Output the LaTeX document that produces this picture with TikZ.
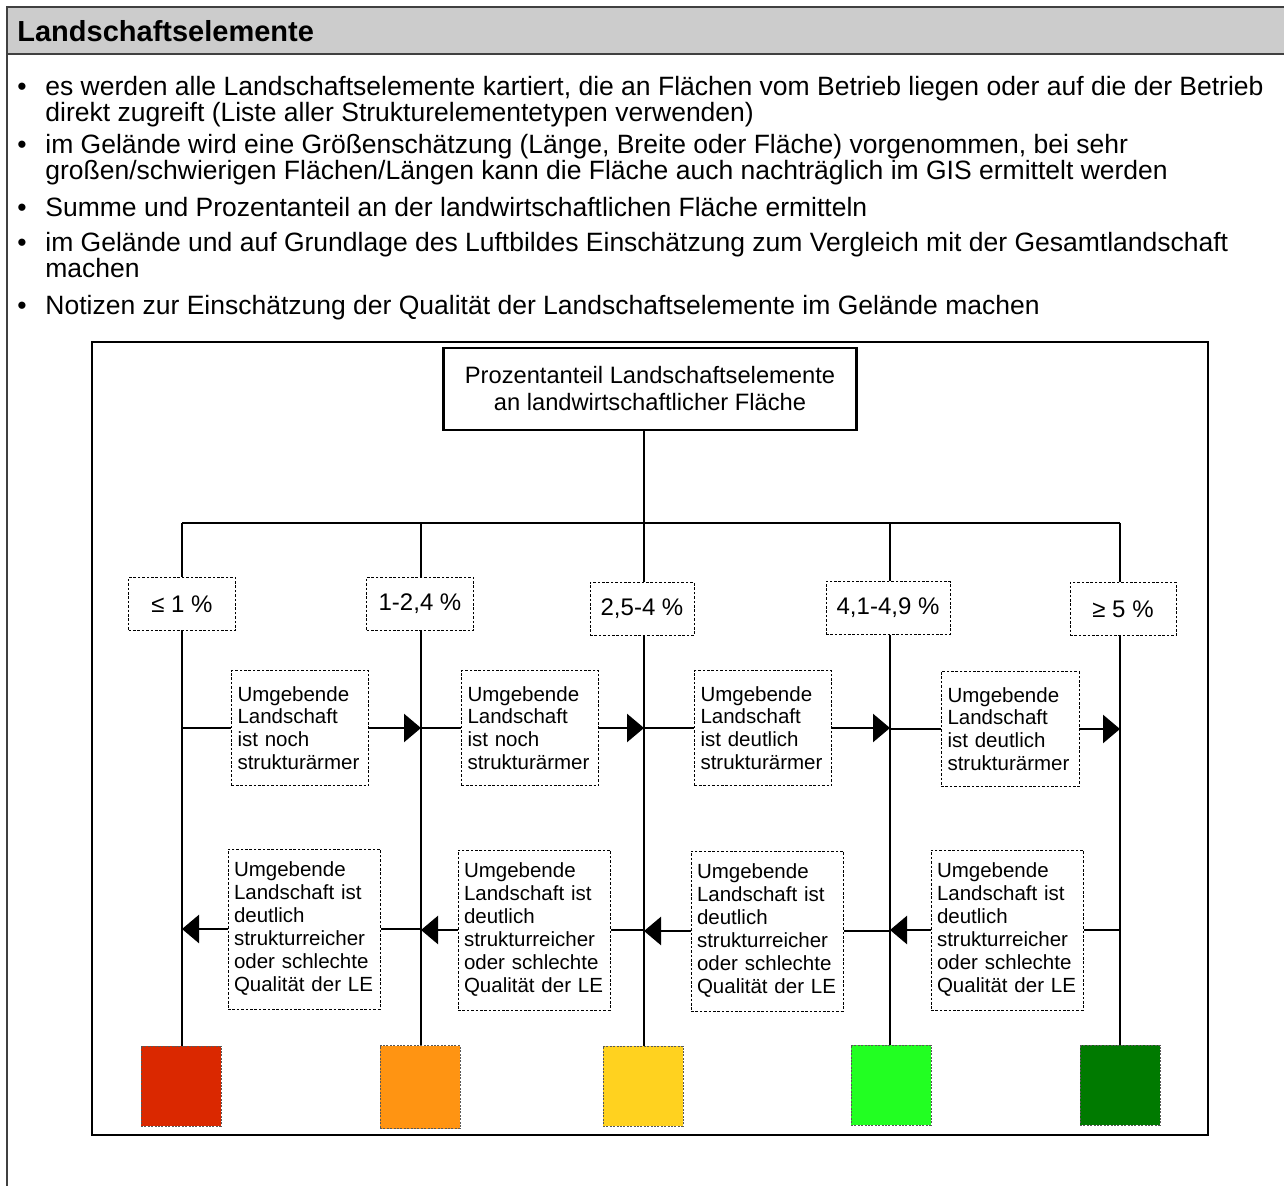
\documentclass[tikz,border=0pt]{standalone}
\usepackage{fontspec}
\setmainfont{Liberation Sans}
\usetikzlibrary{arrows.meta}
\definecolor{hdrgray}{HTML}{CCCCCC}
\definecolor{lered}{HTML}{DA2800}
\definecolor{leorange}{HTML}{FF9412}
\definecolor{leyellow}{HTML}{FFD21F}
\definecolor{lelight}{HTML}{22FF22}
\definecolor{ledark}{HTML}{007A00}
\begin{document}
\begin{tikzpicture}[x=0.5pt,y=-0.5pt,
  conn/.style={line width=1.3pt},
  arr/.style={-{Triangle[length=8.5pt,width=14pt]}},
  dbox/.style={draw,line width=0.5pt,dash pattern=on 1.3pt off 0.9pt,inner sep=0pt},
  bulitem/.style={align=left,inner sep=0pt,font=\fontsize{13.25}{13}\selectfont},
  rangebox/.style={dbox,minimum height=26.5pt,font=\fontsize{12}{14}\selectfont},
  upnote/.style={dbox,minimum width=68.5pt,minimum height=57.5pt,text width=62.5pt,align=left,
    font=\fontsize{10.25}{11.35}\selectfont},
  lownote/.style={dbox,minimum width=76pt,minimum height=80pt,text width=70pt,align=left,
    font=\fontsize{10.25}{11.5}\selectfont},
  swatch/.style={draw=black!65,line width=0.5pt,dash pattern=on 1pt off 0.7pt,
    minimum width=40pt,minimum height=40pt,inner sep=0pt}]
\useasboundingbox (0,0) rectangle (1284,1186);
% outer frame and title band
\fill[hdrgray] (7,7) rectangle (1284,54);
\draw[line width=0.8pt,black!75] (7,1186) -- (7,7) -- (1284,7);
\draw[line width=0.8pt,black!75] (7,54) -- (1284,54);
\node[anchor=west,inner sep=0pt,font=\bfseries\fontsize{14.5}{16}\selectfont] (hdr) at (17,31) {Landschaftselemente};
% bullet list (first and last baseline of each item)
\foreach \yy/\zz/\txt [count=\k] in {
  96/122/{es werden alle Landschaftselemente kartiert, die an Flächen vom Betrieb liegen oder auf die der Betrieb\\direkt zugreift (Liste aller Strukturelementetypen verwenden)},
  154/180/{im Gelände wird eine Größenschätzung (Länge, Breite oder Fläche) vorgenommen, bei sehr\\großen/schwierigen Flächen/Längen kann die Fläche auch nachträglich im GIS ermittelt werden},
  217/217/{Summe und Prozentanteil an der landwirtschaftlichen Fläche ermitteln},
  252/278/{im Gelände und auf Grundlage des Luftbildes Einschätzung zum Vergleich mit der Gesamtlandschaft\\machen},
  315/315/{Notizen zur Einschätzung der Qualität der Landschaftselemente im Gelände machen}}{
  \node[bulitem,anchor=base] (bul\k) at (22,\yy) {\textbullet};
  \node[bulitem,anchor=base west] (item\k) at (45,\zz) {\txt};
}
% diagram
\draw[line width=0.9pt] (92,342) rectangle (1208,1135);
\node[draw,line width=1.3pt,minimum width=206.5pt,minimum height=41pt,align=center,
  font=\fontsize{11.85}{13.5}\selectfont] (top) at (650,389)
  {Prozentanteil Landschaftselemente\\an landwirtschaftlicher Fläche};
\coordinate (b1) at (182,523);
\coordinate (b2) at (421,523);
\coordinate (b3) at (644,523);
\coordinate (b4) at (890,523);
\coordinate (b5) at (1120,523);
\node[rangebox,minimum width=53.5pt] (r1) at (182,604) {≤ 1 \%};
\node[rangebox,minimum width=53.5pt] (r2) at (420,604) {1-2,4 \%};
\node[rangebox,minimum width=52pt] (r3) at (642,609) {2,5-4 \%};
\node[rangebox,minimum width=62pt] (r4) at (888,608) {4,1-4,9 \%};
\node[rangebox,minimum width=53pt] (r5) at (1123,609) {≥ 5 \%};
\node[upnote] (u1) at (300,728) {Umgebende\\Landschaft\\ist noch\\strukturärmer};
\node[upnote] (u2) at (530,728) {Umgebende\\Landschaft\\ist noch\\strukturärmer};
\node[upnote] (u3) at (763,728) {Umgebende\\Landschaft\\ist deutlich\\strukturärmer};
\node[upnote,minimum width=69pt] (u4) at (1010,729) {Umgebende\\Landschaft\\ist deutlich\\strukturärmer};
\node[lownote] (l1) at (304,929) {Umgebende\\Landschaft ist\\deutlich\\strukturreicher\\oder schlechte\\Qualität der LE};
\node[lownote] (l2) at (534,930) {Umgebende\\Landschaft ist\\deutlich\\strukturreicher\\oder schlechte\\Qualität der LE};
\node[lownote] (l3) at (767,931) {Umgebende\\Landschaft ist\\deutlich\\strukturreicher\\oder schlechte\\Qualität der LE};
\node[lownote] (l4) at (1007,930) {Umgebende\\Landschaft ist\\deutlich\\strukturreicher\\oder schlechte\\Qualität der LE};
\node[swatch,fill=lered] (q1) at (181,1086) {};
\node[swatch,fill=leorange,minimum height=41.5pt] (q2) at (420,1087) {};
\node[swatch,fill=leyellow] (q3) at (643,1086) {};
\node[swatch,fill=lelight] (q4) at (891,1085) {};
\node[swatch,fill=ledark] (q5) at (1120,1085) {};
% connectors
\draw[conn] (b3 |- top.south) -- (b3);
\draw[conn] (b1) -- (b5);
\foreach \i in {1,...,5} {
  \draw[conn] (b\i) -- (b\i |- r\i.north);
  \draw[conn] (b\i |- r\i.south) -- (b\i |- q\i.north);
}
\foreach \i/\j in {1/2,2/3,3/4,4/5} {
  \draw[conn] (b\i |- u\i.west) -- (u\i.west);
  \draw[conn,arr] (u\i.east) -- (b\j |- u\i.east);
  \draw[conn,arr] (l\i.west) -- (b\i |- l\i.west);
  \draw[conn] (b\j |- l\i.east) -- (l\i.east);
}
\end{tikzpicture}
\end{document}
